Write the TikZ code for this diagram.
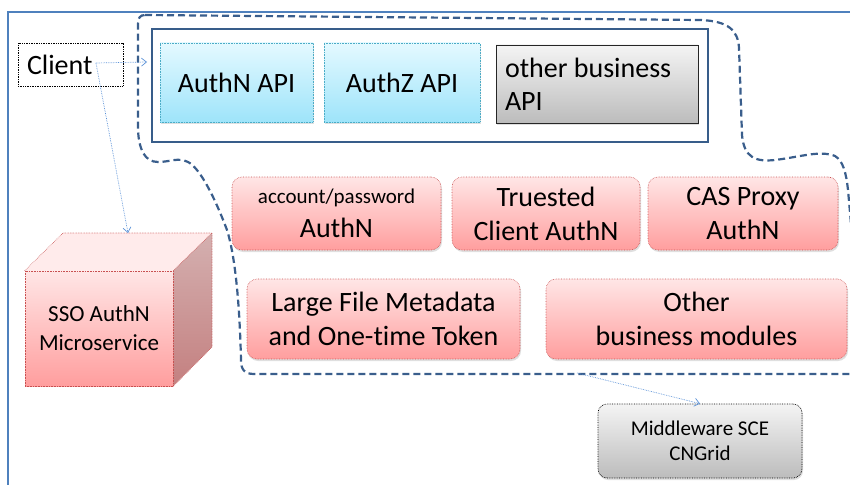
\documentclass[tikz,border=0pt]{standalone}
\usepackage{fontspec}
\setmainfont{Carlito}[Ligatures={NoCommon,NoContextual}]
\usetikzlibrary{shadows,arrows.meta}

\definecolor{frameblue}{RGB}{79,129,189}
\definecolor{cloudblue}{RGB}{58,94,140}
\definecolor{linkblue}{RGB}{90,145,215}
\definecolor{apiframe}{RGB}{56,93,138}
\definecolor{pinktop}{RGB}{255,230,230}
\definecolor{pinkbot}{RGB}{255,158,158}
\definecolor{pinkline}{RGB}{200,80,80}
\definecolor{cyantop}{RGB}{228,249,255}
\definecolor{cyanbot}{RGB}{158,228,250}
\definecolor{cyanline}{RGB}{75,172,198}
\definecolor{greytop}{RGB}{244,244,244}
\definecolor{greybot}{RGB}{188,188,188}
\definecolor{sidetop}{RGB}{212,176,176}
\definecolor{sidebot}{RGB}{196,128,128}

\tikzset{
  bigtext/.style={font=\fontsize{28}{34}\selectfont},
  midtext/.style={font=\fontsize{23}{29}\selectfont},
  smalltext/.style={font=\fontsize{21}{25}\selectfont},
  softshadow/.style={drop shadow={shadow xshift=1pt, shadow yshift=-2pt, opacity=.25}},
  module/.style={rounded corners=10pt, draw=pinkline, densely dotted, line width=.6pt,
    top color=pinktop, bottom color=pinkbot, softshadow, align=center, inner sep=0pt, bigtext},
  apicard/.style={draw=cyanline, densely dotted, line width=.6pt,
    top color=cyantop, bottom color=cyanbot, softshadow, align=center, inner sep=0pt, bigtext},
  greycard/.style={draw=black!85, line width=.8pt,
    top color=greytop, bottom color=greybot, softshadow, inner sep=0pt, bigtext},
  link/.style={linkblue, densely dotted, line width=.7pt, -{Straight Barb[length=5pt,width=8pt]}},
  cloud/.style={cloudblue, line width=2.2pt, dash pattern=on 7pt off 4pt},
}

\begin{document}
\begin{tikzpicture}[x=1pt,y=-1pt]
\useasboundingbox (0,0) rectangle (850,484);

% outer frame
\draw[frameblue, line width=1.5pt] (8,520) -- (8,12) -- (880,12);

% service boundary
\draw[cloud] (145,15) -- (700,20)
  .. controls (728,21) and (738,30) .. (739,48)
  -- (742,135)
  .. controls (744,158) and (756,162) .. (775,160)
  .. controls (800,157) and (820,150) .. (835,156)
  .. controls (843,161) and (846,172) .. (848,190)
  -- (856,280) -- (856,374)
  -- (254,374)
  .. controls (244,374) and (241,369) .. (241,360)
  .. controls (240,320) and (237,262) .. (227,230)
  .. controls (215,198) and (200,168) .. (188,162)
  .. controls (178,157) and (170,162) .. (158,162)
  .. controls (145,162) and (139,150) .. (138,130)
  -- (138,24)
  .. controls (138,18) and (140,15) .. (145,15);

% API layer
\node[draw=apiframe, line width=2.4pt, minimum width=556pt, minimum height=113pt, inner sep=0pt]
  (apis) at (430,85.5) {};
\node[apicard, minimum width=153pt, minimum height=79pt] (authn) at (236.5,82.5) {AuthN API};
\node[apicard, minimum width=156pt, minimum height=79pt] (authz) at (402,82.5) {AuthZ API};
\node[greycard, minimum height=78pt, text width=184pt, inner xsep=9pt, align=flush left,
  font=\fontsize{28}{33}\selectfont] (otherapi) at (597,84) {other business\\API};

% business modules
\node[module, minimum width=209pt, minimum height=73pt] (acct) at (336.5,213.5)
  {{\fontsize{21}{30}\selectfont account/password}\\AuthN};
\node[module, minimum width=188pt, minimum height=73pt] (trusted) at (546,213.5)
  {Truested\\Client AuthN};
\node[module, minimum width=190pt, minimum height=73pt] (cas) at (743,213.5)
  {CAS Proxy\\AuthN};
\node[module, minimum width=273pt, minimum height=80pt] (largefile) at (383.5,319)
  {Large File Metadata\\and One-time Token};
\node[module, minimum width=301pt, minimum height=80pt] (othermod) at (696.5,319)
  {Other\\business modules};

% middleware
\node[draw=black, densely dotted, line width=.7pt, rounded corners=9pt,
  top color=greytop, bottom color=greybot, softshadow, minimum width=204pt, minimum height=74pt,
  align=center, inner sep=0pt, smalltext] (mw) at (700,441) {Middleware SCE\\CNGrid};

% SSO cube
\fill[pinktop!80!white] (25,271) -- (63,233) -- (212,233) -- (173,271) -- cycle;
\shade[top color=sidetop, bottom color=sidebot] (173,271) -- (212,233) -- (212,347) -- (173,386) -- cycle;
\node[draw=pinkline, densely dotted, line width=.6pt, top color=pinktop, bottom color=pinkbot,
  minimum width=148pt, minimum height=115pt, inner sep=0pt, align=center, midtext]
  (sso) at (99,328.5) {SSO AuthN\\Microservice};
\draw[pinkline, densely dotted, line width=.6pt, line join=round]
  (sso.north west) -- (63,233) -- (212,233) -- (212,347) -- (sso.south east)
  (sso.north east) -- (212,233);
\coordinate (ssotop) at (128,233);

% client
\node[draw=black, densely dotted, line width=.7pt, minimum height=43pt, text width=87pt,
  inner xsep=9pt, inner ysep=0pt, align=flush left, bigtext] (client) at (70.5,64.5) {Client};
\coordinate (clientout) at (96,63);
\coordinate (apiin) at (147,62);
\coordinate (cloudout) at (577,373);

% connectors
\draw[link] (clientout) -- (apiin);
\draw[link] (clientout) -- (ssotop);
\draw[link] (cloudout) -- (mw.north);
\end{tikzpicture}
\end{document}
